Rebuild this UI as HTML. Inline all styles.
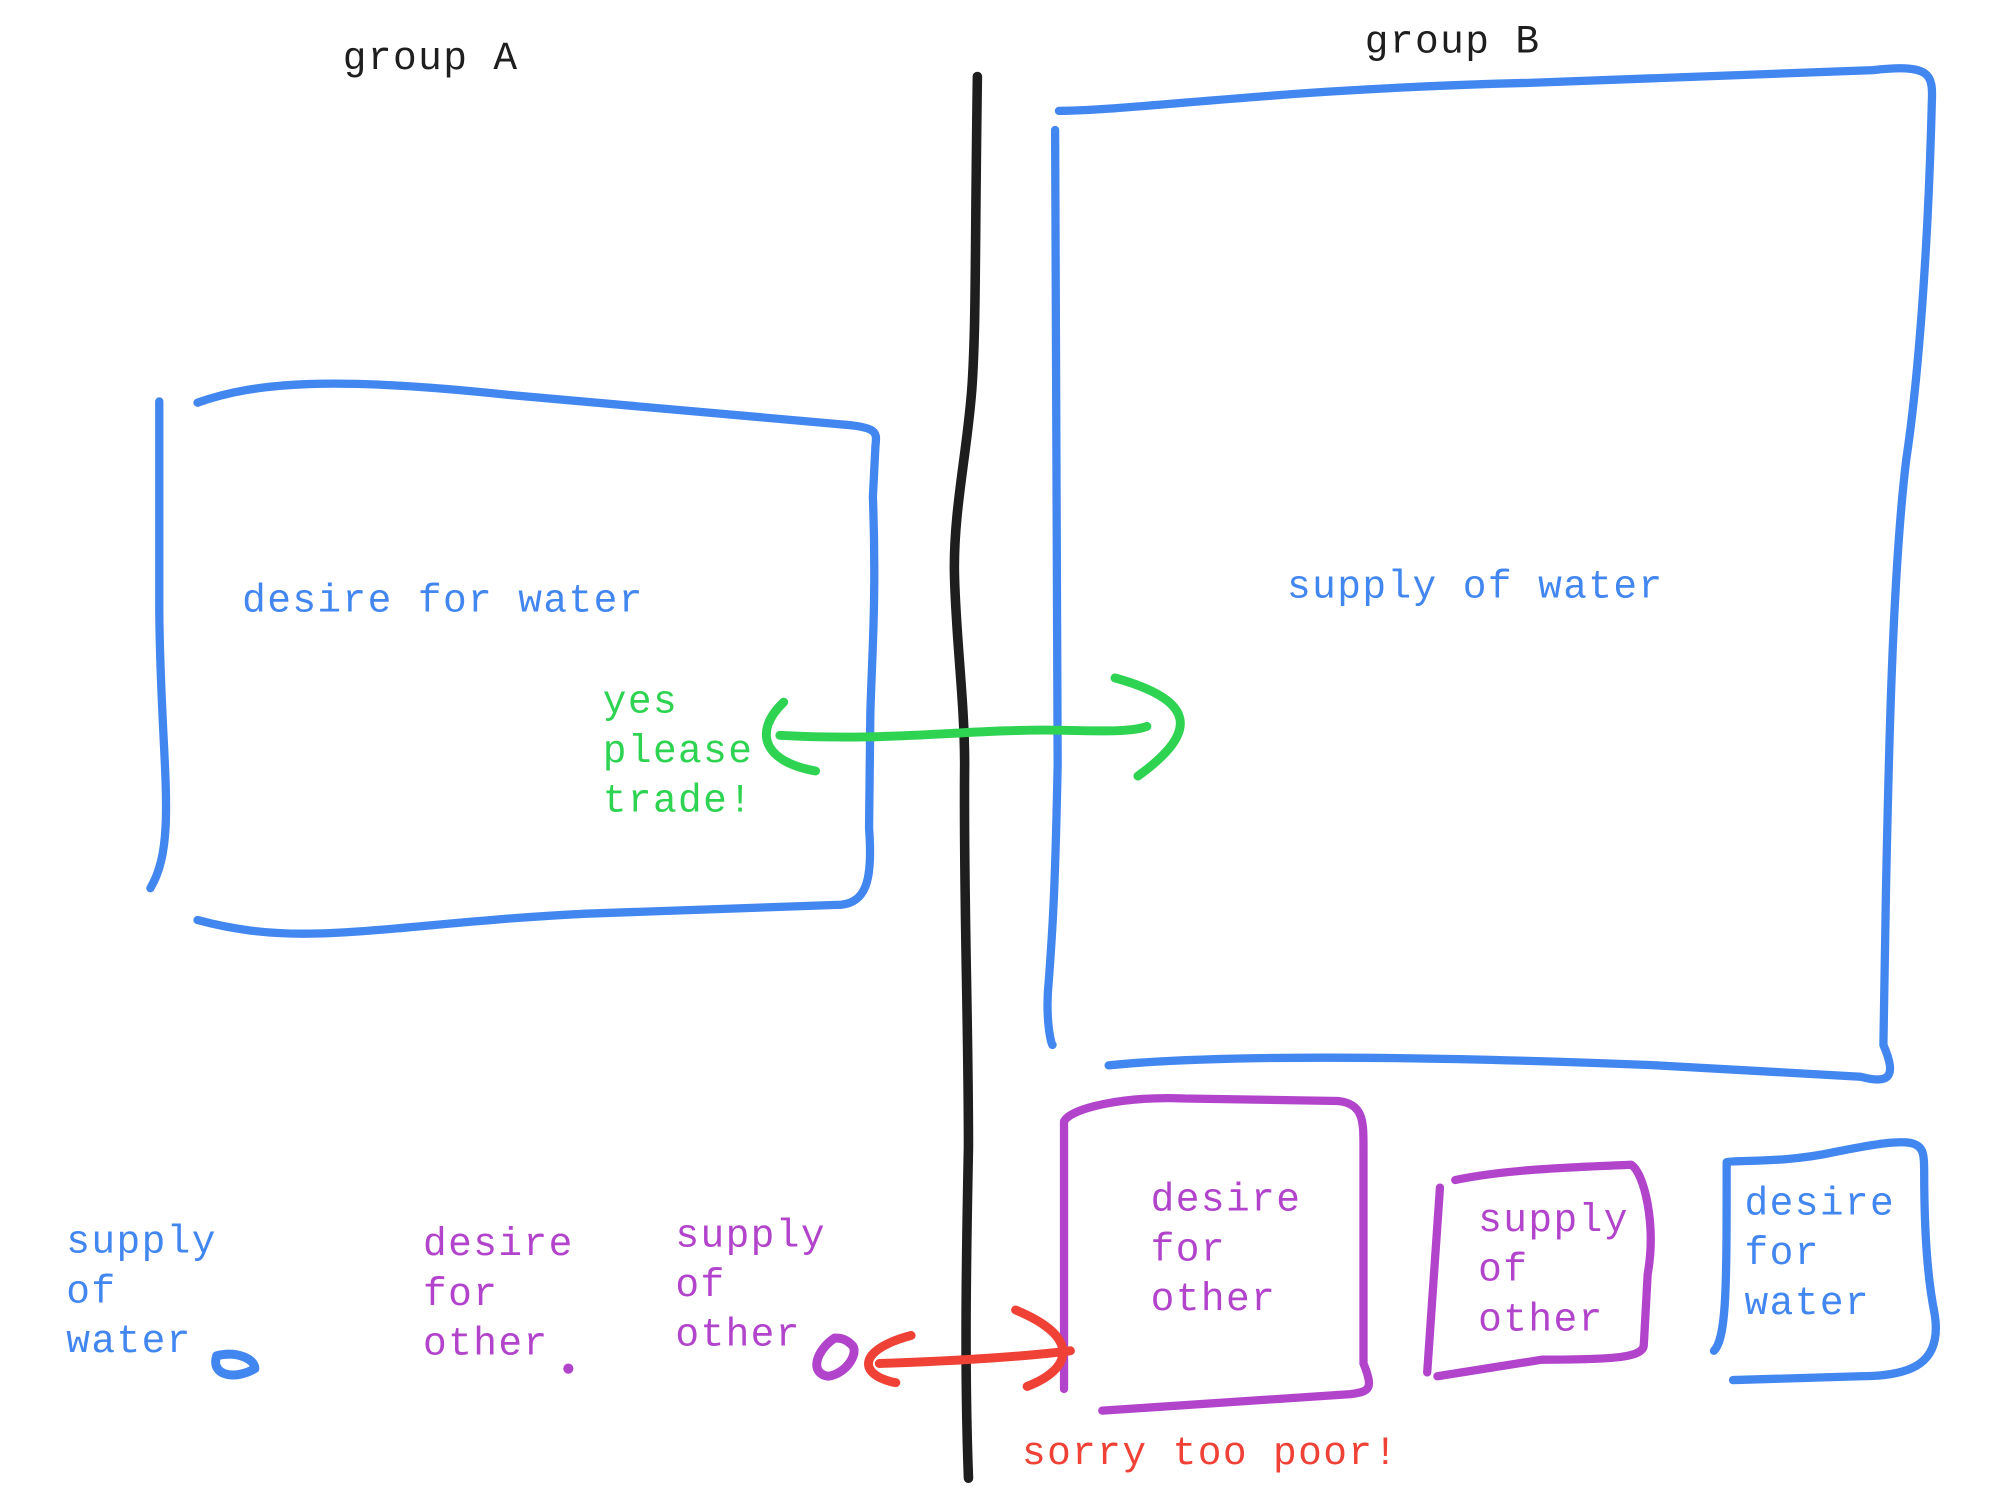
<!DOCTYPE html>
<html><head><style>
html,body{margin:0;padding:0;background:#fff;width:2000px;height:1500px;overflow:hidden;}
svg{display:block;position:absolute;left:0;top:0;}
text{font-family:"Liberation Mono",monospace;font-size:31px;letter-spacing:1.1px;}
</style></head><body>
<svg width="2000" height="1500" viewBox="0 0 1569.5 1177.1" xmlns="http://www.w3.org/2000/svg">
<g fill="none" stroke-linecap="round" stroke-linejoin="round">
<path d="M767,60 C765,200 766,250 763,300 C760,350 748,400 749,450 C750,500 757,550 757,600 C756,700 760,800 760,900 C758,1000 757,1080 760,1160" stroke="#1e1e1e" stroke-width="7.5"/>
<g stroke="#4286f0" stroke-width="6.5">
<path d="M125,315 L125,480 C126,600 140,660 118,697"/>
<path d="M155,316 C200,300 260,295 400,310 L660,333 C690,335 688,340 687,350 L685,390 C688,470 684,520 683,560 L682,650 C685,690 680,708 660,710 L460,717 C300,725 240,745 155,722"/>
<path d="M831,87 C900,86 1000,70 1200,65 L1470,55 C1515,50 1517,58 1516,80 C1513,200 1505,300 1496,360 C1485,450 1482,600 1480,700 L1478,820 C1490,848 1480,850 1460,845 L1300,836 C1100,828 950,828 870,836"/>
<path d="M828,102 L830,600 C828,700 826,730 823,770 C820,800 825,820 826,820"/>
<path d="M1345,1060 C1355,1050 1355,1010 1355,912 C1360,910 1400,913 1440,904 C1510,890 1510,895 1510,920 C1510,960 1512,1000 1518,1030 C1525,1070 1500,1080 1460,1080 L1360,1083"/>
<path d="M170,1064 C165,1080 185,1083 200,1074 C200,1066 185,1060 170,1064 Z" stroke-width="7"/>
</g>
<g stroke="#2fd352" stroke-width="7">
<path d="M612,577 C700,582 760,572 830,573 C870,574 890,574 900,570"/>
<path d="M615,551 C590,575 600,598 640,605"/>
<path d="M875,532 C940,550 940,575 893,609"/>
</g>
<g stroke="#b244cc" stroke-width="6.5">
<path d="M835,1090 L835,880 C840,870 880,860 930,862 L1050,864 C1070,866 1070,880 1070,900 L1070,1070 C1078,1090 1075,1092 1060,1094 L865,1107"/>
<path d="M1130,932 L1120,1077"/>
<path d="M1142,926 C1180,918 1230,916 1280,914 C1290,920 1300,960 1293,1000 L1290,1055 C1290,1065 1270,1067 1210,1067 L1128,1080"/>
<path d="M655,1050 C640,1060 635,1078 650,1080 C665,1078 675,1060 668,1055 C663,1050 658,1050 655,1050" stroke-width="7"/>
</g>
<circle cx="446" cy="1074" r="4" fill="#b244cc"/>
<g stroke="#ef4136" stroke-width="7">
<path d="M690,1070 C750,1068 800,1065 840,1060"/>
<path d="M715,1048 C670,1060 675,1080 703,1085"/>
<path d="M797,1028 C850,1050 840,1075 806,1088"/>
</g>
</g>
<g fill="#1e1e1e"><text x="269" y="54">group A</text><text x="1071" y="41">group B</text></g>
<g fill="#4286f0">
<text x="190" y="480">desire for water</text>
<text x="1010" y="469">supply of water</text>
<text x="52" y="983">supply</text><text x="52" y="1022">of</text><text x="52" y="1061">water</text>
<text x="1369" y="953">desire</text><text x="1369" y="992">for</text><text x="1369" y="1031">water</text>
</g>
<g fill="#2fd352"><text x="473" y="559">yes</text><text x="473" y="598">please</text><text x="473" y="637">trade!</text></g>
<g fill="#b244cc">
<text x="332" y="985">desire</text><text x="332" y="1024">for</text><text x="332" y="1063">other</text>
<text x="530" y="978">supply</text><text x="530" y="1017">of</text><text x="530" y="1056">other</text>
<text x="903" y="950">desire</text><text x="903" y="989">for</text><text x="903" y="1028">other</text>
<text x="1160" y="966">supply</text><text x="1160" y="1005">of</text><text x="1160" y="1044">other</text>
</g>
<text x="802" y="1149" fill="#ef4136">sorry too poor!</text>
</svg>
</body></html>
